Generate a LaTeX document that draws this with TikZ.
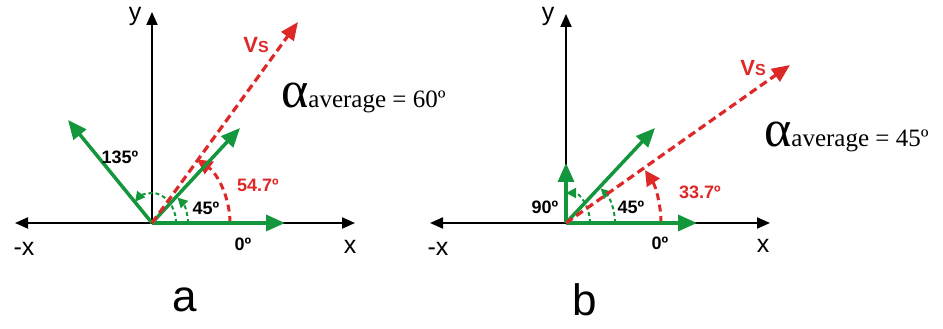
\documentclass[tikz,border=0pt]{standalone}
\usepackage{fontspec}
\setmainfont{Liberation Sans}
\newfontfamily\serifalpha{Liberation Serif}
\usetikzlibrary{arrows.meta}
\definecolor{vgreen}{RGB}{20,150,60}
\definecolor{vred}{RGB}{222,40,40}
\tikzset{
  axis/.style={line width=2pt, black, {Triangle[length=13pt,width=11pt]}-{Triangle[length=13pt,width=11pt]}},
  yaxis/.style={line width=2pt, black, -{Triangle[length=13pt,width=11pt]}},
  gvec/.style={line width=3.5pt, vgreen, -{Triangle[length=19pt,width=16pt]}},
  rvec/.style={line width=3.2pt, vred, dash pattern=on 8pt off 4.5pt, -{Triangle[length=18pt,width=15pt]}},
  garc/.style={line width=2pt, vgreen, dash pattern=on 4pt off 3pt, -{Triangle[length=10pt,width=10pt]}},
  rarc/.style={line width=3pt, vred, dash pattern=on 7pt off 4.5pt, -{Triangle[length=15pt,width=15pt]}},
  axlbl/.style={font=\fontsize{25}{28}\selectfont, inner sep=0pt},
  anglbl/.style={font=\fontsize{18}{20}\selectfont\bfseries, inner sep=0pt},
  redlbl/.style={anglbl, text=vred},
  panel/.style={font=\fontsize{44}{48}\selectfont, inner sep=0pt},
  alphalbl/.style={anchor=base west, inner sep=0pt, font=\serifalpha\fontsize{25}{28}\selectfont},
}
\begin{document}
\begin{tikzpicture}[x=1pt,y=1pt]
\useasboundingbox (0,0) rectangle (943,329);
% ---------- panel a ----------
\coordinate (oa) at (152,106);
\coordinate (axl) at (15,106);
\coordinate (axr) at (355,106);
\coordinate (ayt) at (152,317);
\coordinate (ga0) at (285,106);
\coordinate (ga45) at (240,201);
\coordinate (ga135) at (68,209);
\coordinate (rav) at (298,307);
\draw[axis] (axl) -- (axr);
\draw[yaxis] (oa) -- (ayt);
\node[axlbl] (mxa) at (24,80) {-x};
\node[axlbl] (xa) at (350,82) {x};
\node[axlbl] (ya) at (135,313) {y};
\draw[garc] (176,106) arc[start angle=0,end angle=135,x radius=24,y radius=30];
\draw[garc] (188,106) arc[start angle=0,end angle=45,radius=36];
\draw[rarc] (230,106) arc[start angle=0,end angle=54.7,radius=78];
\draw[gvec] (oa) -- (ga0);
\draw[gvec] (oa) -- (ga45);
\draw[gvec] (oa) -- (ga135);
\draw[rvec] (oa) -- (rav);
\node[redlbl, font=\fontsize{22}{24}\selectfont\bfseries] (vsa) at (256,284) {V{\fontsize{16}{17}\selectfont S}};
\node[anglbl] (l135) at (120,172) {135º};
\node[anglbl] (l45a) at (206,121) {45º};
\node[redlbl] (l547) at (258,144) {54.7º};
\node[anglbl] (l0a) at (243,85) {0º};
\node[alphalbl] (alpa) at (281,221) {{\fontsize{52}{54}\selectfont α}average = 60º};
\node[panel] (pa) at (185,29) {a};
% ---------- panel b ----------
\coordinate (ob) at (566,106);
\coordinate (bxl) at (430,106);
\coordinate (bxr) at (770,106);
\coordinate (byt) at (566,315);
\coordinate (gb0) at (697,106);
\coordinate (gb90) at (566,166);
\coordinate (gb45) at (655,201);
\coordinate (rbv) at (790,264);
\draw[axis] (bxl) -- (bxr);
\draw[yaxis] (ob) -- (byt);
\node[axlbl] (mxb) at (438,80) {-x};
\node[axlbl] (xb) at (763,83) {x};
\node[axlbl] (yb) at (548,313) {y};
\draw[garc] (590,106) arc[start angle=0,end angle=90,x radius=24,y radius=30];
\draw[garc] (615,106) arc[start angle=0,end angle=45,radius=49];
\draw[rarc] (661,106) arc[start angle=0,end angle=33.7,radius=95];
\draw[gvec] (ob) -- (gb0);
\draw[gvec] (ob) -- (gb90);
\draw[gvec] (ob) -- (gb45);
\draw[rvec] (ob) -- (rbv);
\node[redlbl, font=\fontsize{22}{24}\selectfont\bfseries] (vsb) at (753,261) {V{\fontsize{16}{17}\selectfont S}};
\node[anglbl] (l90) at (545,122) {90º};
\node[anglbl] (l45b) at (631,122) {45º};
\node[redlbl] (l337) at (700,137) {33.7º};
\node[anglbl] (l0b) at (660,86) {0º};
\node[alphalbl] (alpb) at (764,182) {{\fontsize{52}{54}\selectfont α}average = 45º};
\node[panel] (pb) at (585,29) {b};
\end{tikzpicture}
\end{document}
